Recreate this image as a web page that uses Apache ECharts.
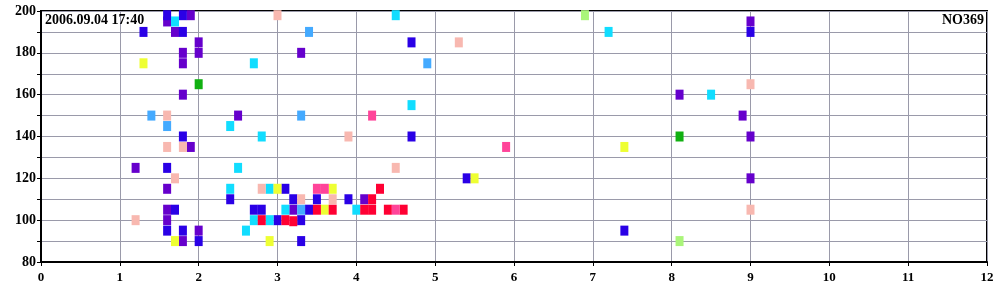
<!DOCTYPE html>
<html>
<head>
<meta charset="utf-8">
<script src="https://cdn.jsdelivr.net/npm/echarts@6/dist/echarts.min.js"></script>
<style>
html,body{margin:0;padding:0;background:#fff;}
#c{width:1000px;height:300px;}
</style>
</head>
<body>
<div id="c"></div>
<script>
// Data: [x, y] per colour group
const purple = [[1.6,195],[1.7,190],[1.9,198],[2.0,185],[1.8,180],[2.0,180],[3.3,180],[1.8,175],[1.8,160],[2.5,150],[1.9,135],[1.2,125],[1.6,115],[3.2,105],[1.6,105],[1.6,100],[2.0,95],[1.8,90],[4.1,110],[9.0,195],[8.1,160],[8.9,150],[9.0,140],[9.0,120]];
const blue = [[1.3,190],[1.6,198],[1.8,198],[1.8,190],[1.8,140],[1.6,125],[2.4,110],[3.1,115],[3.2,110],[3.5,110],[2.7,105],[2.8,105],[3.4,105],[3.0,100],[3.3,100],[1.7,105],[1.6,95],[1.8,95],[2.0,90],[3.3,90],[3.9,110],[4.7,185],[4.7,140],[5.4,120],[7.4,95],[9.0,190]];
const cyan = [[1.7,195],[2.7,175],[2.4,145],[2.8,140],[2.5,125],[2.4,115],[2.9,115],[3.1,105],[2.7,100],[2.9,100],[2.6,95],[4.0,105],[4.5,198],[7.2,190],[4.7,155],[8.5,160]];
const lightBlue = [[1.4,150],[1.6,145],[3.3,150],[3.4,190],[3.3,105],[4.9,175]];
const salmon = [[3.0,198],[1.6,150],[1.6,135],[1.8,135],[1.7,120],[2.8,115],[3.3,110],[3.7,110],[1.2,100],[3.9,140],[4.5,125],[5.3,185],[9.0,165],[9.0,105]];
const yellow = [[1.3,175],[3.0,115],[3.7,115],[3.6,105],[1.7,90],[2.9,90],[5.5,120],[7.4,135]];
const red = [[2.8,100],[3.1,100],[3.2,99.5],[3.5,105],[3.7,105],[4.3,115],[4.2,110],[4.1,105],[4.2,105],[4.4,105],[4.6,105]];
const hotPink = [[3.5,115],[3.6,115],[4.5,105],[4.2,150],[5.9,135]];
const green = [[2.0,165],[8.1,140]];
const lightGreen = [[6.9,198],[8.1,90]];

const titleLeft = '2006.09.04 17:40';
const titleRight = 'NO369';
const xTicks = [0,1,2,3,4,5,6,7,8,9,10,11,12];

const groups = [
  {data: purple, color: '#6600cc'},
  {data: blue, color: '#2a00e6'},
  {data: cyan, color: '#11ddff'},
  {data: lightBlue, color: '#44aaff'},
  {data: salmon, color: '#f8b8b0'},
  {data: yellow, color: '#eeff33'},
  {data: red, color: '#ff0033'},
  {data: hotPink, color: '#ff4499'},
  {data: green, color: '#11b011'},
  {data: lightGreen, color: '#aaf57a'}
];

const font = "'Liberation Serif', 'Times New Roman', serif";
const chart = echarts.init(document.getElementById('c'), null, {renderer: 'canvas'});
chart.setOption({
  animation: false,
  backgroundColor: '#ffffff',
  title: [
    {text: titleLeft, left: 45, top: 13, padding: 0, textStyle: {fontFamily: font, fontWeight: 'bold', fontSize: 14, color: '#000'}},
    {text: titleRight, right: 16, top: 13, padding: 0, textStyle: {fontFamily: font, fontWeight: 'bold', fontSize: 14, color: '#000'}}
  ],
  grid: {left: 41, right: 13, top: 11, bottom: 38, show: true, borderColor: '#000', borderWidth: 2, backgroundColor: 'transparent'},
  xAxis: {
    type: 'value', min: xTicks[0], max: xTicks[xTicks.length-1], interval: 1,
    axisLine: {show: true, lineStyle: {color: '#000', width: 2}},
    axisTick: {show: true, length: 4, lineStyle: {color: '#000'}},
    axisLabel: {fontFamily: font, fontWeight: 'bold', fontSize: 13, color: '#000', margin: 9},
    splitLine: {show: true, lineStyle: {color: '#9a9aaa', width: 1}}
  },
  yAxis: {
    type: 'value', min: 80, max: 200, interval: 10,
    axisLine: {show: true, lineStyle: {color: '#000', width: 2}},
    axisTick: {show: true, length: 4, lineStyle: {color: '#000'}},
    axisLabel: {fontFamily: font, fontWeight: 'bold', fontSize: 14, color: '#000', margin: 5,
      formatter: v => (v % 20 === 0 ? String(v) : '')},
    splitLine: {show: true, lineStyle: {color: '#9a9aaa', width: 1}}
  },
  series: groups.map(g => ({
    type: 'scatter',
    data: g.data,
    symbol: 'rect',
    symbolSize: [8, 10],
    itemStyle: {color: g.color, opacity: 1},
    emphasis: {disabled: true},
    clip: false
  }))
});
</script>
</body>
</html>
